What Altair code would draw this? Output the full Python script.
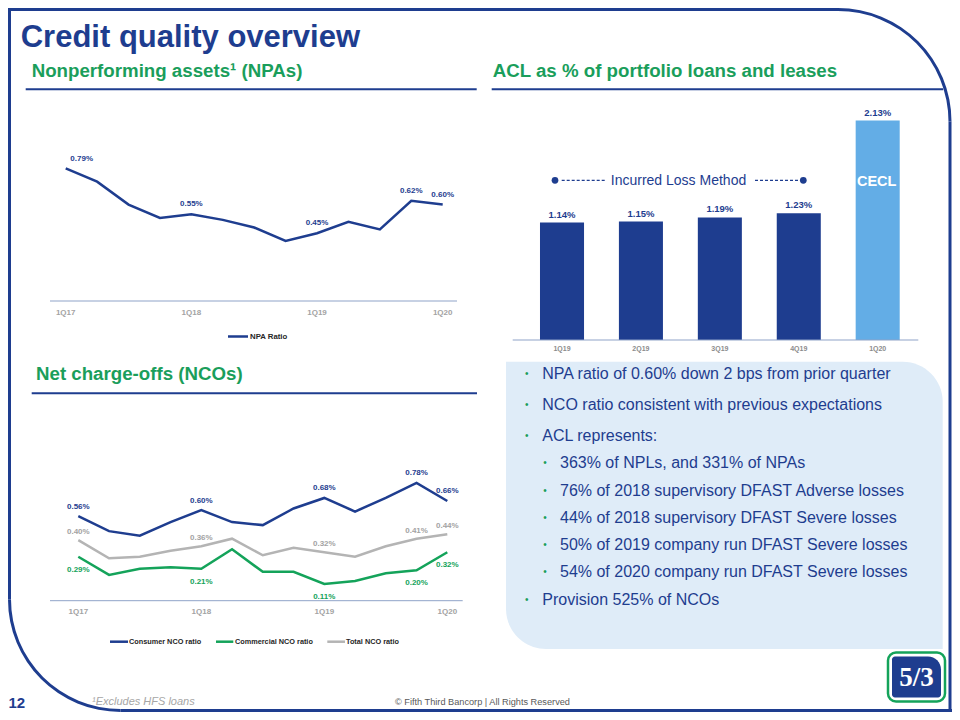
import math
import altair as alt
import pandas as pd

# ---------------- data ----------------
quarters = ["1Q17", "2Q17", "3Q17", "4Q17", "1Q18", "2Q18", "3Q18",
            "4Q18", "1Q19", "2Q19", "3Q19", "4Q19", "1Q20"]
npa_ratio = [0.79, 0.72, 0.60, 0.53, 0.55, 0.52, 0.48, 0.41, 0.45, 0.51, 0.47, 0.62, 0.60]
consumer_nco = [0.56, 0.46, 0.43, 0.52, 0.60, 0.52, 0.50, 0.61, 0.68, 0.59, 0.68, 0.78, 0.66]
commercial_nco = [0.29, 0.17, 0.21, 0.22, 0.21, 0.34, 0.19, 0.19, 0.11, 0.13, 0.18, 0.20, 0.32]
total_nco = [0.40, 0.28, 0.29, 0.33, 0.36, 0.41, 0.30, 0.35, 0.32, 0.29, 0.36, 0.41, 0.44]
nco_series = ["Consumer NCO ratio", "Commercial NCO ratio", "Total NCO ratio"]
labeled_quarters = ["1Q17", "1Q18", "1Q19", "4Q19", "1Q20"]
axis_quarters = ["1Q17", "1Q18", "1Q19", "1Q20"]

acl_quarters = ["1Q19", "2Q19", "3Q19", "4Q19", "1Q20"]
acl_pct = [1.14, 1.15, 1.19, 1.23, 2.13]
acl_method = ["Incurred Loss Method"] * 4 + ["CECL"]

bullet_text = [
    "NPA ratio of 0.60% down 2 bps from prior quarter",
    "NCO ratio consistent with previous expectations",
    "ACL represents:",
    "363% of NPLs, and 331% of NPAs",
    "76% of 2018 supervisory DFAST Adverse losses",
    "44% of 2018 supervisory DFAST Severe losses",
    "50% of 2019 company run DFAST Severe losses",
    "54% of 2020 company run DFAST Severe losses",
    "Provision 525% of NCOs",
]
bullet_level = [0, 0, 0, 1, 1, 1, 1, 1, 0]

# ---------------- tables ----------------
idx = list(range(len(quarters)))
npa_df = pd.DataFrame({"quarter": quarters, "i": idx, "ratio": npa_ratio})
nco_df = pd.DataFrame({
    "quarter": quarters * 3,
    "i": idx * 3,
    "series": [s for s in nco_series for _ in quarters],
    "ratio": consumer_nco + commercial_nco + total_nco,
})
acl_df = pd.DataFrame({"quarter": acl_quarters, "acl": acl_pct, "method": acl_method})

# ---------------- style ----------------
FONT = "Liberation Sans"
NAVY = "#1e3d8f"
GREEN = "#1a9e5b"
LINE_GREEN = "#14a35a"
GRAY_LINE = "#b4b4b4"
GRAY_LABEL = "#a3a3a3"
AXIS_LINE = "#8fa3c8"
CECL_BLUE = "#63ade6"
BOX = "#dfecf8"

base = alt.Chart(pd.DataFrame({"k": [0]}))


def txt(s, x, y, size, color, weight="normal", align="left",
        style="normal", baseline="middle", font=FONT):
    return base.mark_text(text=s, font=font, fontSize=size, fontWeight=weight,
                          fontStyle=style, color=color, align=align,
                          baseline=baseline).encode(x=alt.value(x), y=alt.value(y))


def rule(x1, y1, x2, y2, color, width, dash=None):
    kw = dict(color=color, strokeWidth=width)
    if dash:
        kw["strokeDash"] = dash
    return base.mark_rule(**kw).encode(x=alt.value(x1), y=alt.value(y1),
                                        x2=alt.value(x2), y2=alt.value(y2))


def arc(cx, cy, r, t0, t1, color, width):
    return base.mark_arc(theta=t0, theta2=t1, innerRadius=r - width / 2,
                         outerRadius=r + width / 2, color=color).encode(
        x=alt.value(cx), y=alt.value(cy))


layers = []

# ---------------- slide frame ----------------
layers += [
    rule(0, 1.5, 830, 1.5, NAVY, 3),
    arc(830, 113.5, 112, 0, math.pi / 2, NAVY, 3),
    rule(942, 113.5, 942, 704, NAVY, 3),
    rule(112.5, 702.5, 944, 702.5, NAVY, 3),
    rule(1.5, 0, 1.5, 591.5, NAVY, 3),
    arc(112.5, 591.5, 111, math.pi, 3 * math.pi / 2, NAVY, 3),
]

# ---------------- callout box ----------------
layers.append(base.mark_rect(color=BOX, cornerRadiusTopRight=40,
                             cornerRadiusBottomLeft=40).encode(
    x=alt.value(498), x2=alt.value(934.7), y=alt.value(353.7), y2=alt.value(641)))

# ---------------- titles ----------------
layers += [
    txt("Credit quality overview", 12.7, 38.7, 31, NAVY, "bold", baseline="alphabetic"),
    txt("Nonperforming assets\u00b9 (NPAs)", 23.7, 69.3, 18.7, GREEN, "bold", baseline="alphabetic"),
    txt("ACL as % of portfolio loans and leases", 484.7, 69.3, 18.7, GREEN, "bold", baseline="alphabetic"),
    txt("Net charge-offs (NCOs)", 28, 372.3, 18.7, GREEN, "bold", baseline="alphabetic"),
    rule(17.7, 81.3, 468.7, 81.3, NAVY, 2),
    rule(483.7, 81.3, 935.3, 81.3, NAVY, 2),
    rule(23.7, 385.3, 469, 385.3, NAVY, 2),
]

# ---------------- NPA line chart ----------------
x_npa = alt.X("quarter:N", axis=None,
              scale=alt.Scale(type="point", domain=quarters, range=[57.7, 434.7], padding=0))
y_npa = alt.Y("ratio:Q", axis=None,
              scale=alt.Scale(domain=[0.1, 0.9], range=[292.1, 139.3], nice=False, zero=False))
npa_base = alt.Chart(npa_df)
layers += [
    rule(42, 293, 449, 293, AXIS_LINE, 1),
    npa_base.mark_line(color=NAVY, strokeWidth=2.5).encode(x=x_npa, y=y_npa, order="i:Q"),
    npa_base.transform_filter(alt.FieldOneOfPredicate(field="quarter", oneOf=labeled_quarters[1:]))
    .transform_calculate(lbl="format(datum.ratio, '.2f') + '%'")
    .mark_text(dy=-10, font=FONT, fontSize=8, fontWeight="bold", color=NAVY)
    .encode(x=x_npa, y=y_npa, text="lbl:N"),
    npa_base.transform_filter(alt.FieldEqualPredicate(field="quarter", equal=quarters[0]))
    .transform_calculate(lbl="format(datum.ratio, '.2f') + '%'")
    .mark_text(dy=-9, dx=16, font=FONT, fontSize=8, fontWeight="bold", color=NAVY)
    .encode(x=x_npa, y=y_npa, text="lbl:N"),
    alt.Chart(pd.DataFrame({"quarter": axis_quarters}))
    .mark_text(font=FONT, fontSize=8, fontWeight="bold", color=GRAY_LABEL)
    .encode(x=x_npa, y=alt.value(304.5), text="quarter:N"),
    rule(220, 328.5, 240, 328.5, NAVY, 2.5),
    txt("NPA Ratio", 242, 328.5, 7.8, "#262626", "bold"),
]

# ---------------- ACL bar chart ----------------
x_acl = alt.X("quarter:N", axis=None,
              scale=alt.Scale(type="band", domain=acl_quarters, range=[514.55, 909.15],
                              paddingInner=0.442, paddingOuter=0.221))
y_acl = alt.Y("acl:Q", axis=None,
              scale=alt.Scale(domain=[0, 2.5], range=[332, 74.5], nice=False))
c_acl = alt.Color("method:N", legend=None,
                  scale=alt.Scale(domain=["Incurred Loss Method", "CECL"], range=[NAVY, CECL_BLUE]))
acl_base = alt.Chart(acl_df)
layers += [
    acl_base.mark_bar().encode(x=x_acl, y=y_acl, color=c_acl),
    rule(504.7, 332, 910.3, 332, AXIS_LINE, 1),
    acl_base.transform_calculate(lbl="format(datum.acl, '.2f') + '%'")
    .mark_text(dy=-8, font=FONT, fontSize=9.5, fontWeight="bold", color=NAVY)
    .encode(x=x_acl, y=y_acl, text="lbl:N"),
    acl_base.mark_text(font=FONT, fontSize=7, fontWeight="bold", color="#8c8c8c")
    .encode(x=x_acl, y=alt.value(341.3), text="quarter:N"),
    txt("CECL", 868.7, 174.3, 14.5, "white", "bold", align="center"),
    txt("Incurred Loss Method", 670.5, 172.7, 14, NAVY, align="center"),
    rule(553.7, 172.3, 597, 172.3, NAVY, 1.2, dash=[3, 2]),
    rule(747, 172.3, 793.7, 172.3, NAVY, 1.2, dash=[3, 2]),
    base.mark_point(filled=True, size=45, color=NAVY, opacity=1).encode(
        x=alt.value(547), y=alt.value(172.3)),
    base.mark_point(filled=True, size=45, color=NAVY, opacity=1).encode(
        x=alt.value(795.3), y=alt.value(172.3)),
]

# ---------------- NCO line chart ----------------
x_nco = alt.X("quarter:N", axis=None,
              scale=alt.Scale(type="point", domain=quarters, range=[70.3, 439.3], padding=0))
y_nco = alt.Y("ratio:Q", axis=None,
              scale=alt.Scale(domain=[0, 1], range=[592.5, 441.7], nice=False))
nco_colors = [NAVY, LINE_GREEN, GRAY_LINE]
c_nco = alt.Color("series:N", legend=None, scale=alt.Scale(domain=nco_series, range=nco_colors))
nco_base = alt.Chart(nco_df)
layers += [
    rule(42, 592.7, 454.7, 592.7, AXIS_LINE, 1),
    nco_base.mark_line(strokeWidth=2.5).encode(x=x_nco, y=y_nco, color=c_nco,
                                               detail="series:N", order="i:Q"),
]
label_styles = [(nco_series[0], -9.5, NAVY), (nco_series[1], 13, LINE_GREEN),
                (nco_series[2], -8, GRAY_LABEL)]
for s, dy, col in label_styles:
    layers.append(
        nco_base.transform_filter(alt.FieldEqualPredicate(field="series", equal=s))
        .transform_filter(alt.FieldOneOfPredicate(field="quarter", oneOf=labeled_quarters))
        .transform_calculate(lbl="format(datum.ratio, '.2f') + '%'")
        .mark_text(dy=dy, font=FONT, fontSize=8, fontWeight="bold", color=col)
        .encode(x=x_nco, y=y_nco, text="lbl:N"))
layers.append(
    alt.Chart(pd.DataFrame({"quarter": axis_quarters}))
    .mark_text(font=FONT, fontSize=8, fontWeight="bold", color=GRAY_LABEL)
    .encode(x=x_nco, y=alt.value(603.7), text="quarter:N"))
legend_x = [(102, 120, 121), (208, 225.3, 227), (319.3, 337, 338)]
for (a, b, t), s, col in zip(legend_x, nco_series, nco_colors):
    layers += [rule(a, 633.7, b, 633.7, col, 2.5), txt(s, t, 633.7, 7.3, "#262626", "bold")]

# ---------------- bullets ----------------
y = 366.0
for k, (s, lvl) in enumerate(zip(bullet_text, bullet_level)):
    if k > 0:
        y += 31 if (lvl == 0 and bullet_level[k - 1] == 0) else 27.25
    bx, tx = (518.7, 534.3) if lvl == 0 else (537, 552)
    layers += [txt("\u2022", bx, y, 10, GREEN, align="center"),
               txt(s, tx, y, 16, NAVY)]

# ---------------- footer & logo ----------------
layers += [
    txt("12", 0.5, 695, 15, NAVY, "bold"),
    txt("\u00b9Excludes HFS loans", 84, 693.5, 11, "#a6a6a6", style="italic"),
    txt("\u00a9 Fifth Third Bancorp | All Rights Reserved", 387, 694, 9.2, "#595959"),
    base.mark_rect(fill="white", stroke=LINE_GREEN, strokeWidth=2.5, cornerRadius=8).encode(
        x=alt.value(880), x2=alt.value(937), y=alt.value(644.5), y2=alt.value(693.5)),
    base.mark_rect(color=NAVY, cornerRadius=3, cornerRadiusTopRight=13).encode(
        x=alt.value(884), x2=alt.value(933), y=alt.value(648.5), y2=alt.value(689.5)),
    txt("5/3", 908.5, 670, 27, "white", "bold", align="center", font="Liberation Serif"),
]

chart = (
    alt.layer(*layers)
    .resolve_scale(x="independent", y="independent", color="independent")
    .properties(width=944, height=704, padding=0,
                autosize=alt.AutoSizeParams(type="none"), background="white")
    .configure_view(stroke=None)
)

chart.save("out.html", embed_options={"renderer": "svg", "actions": False})
